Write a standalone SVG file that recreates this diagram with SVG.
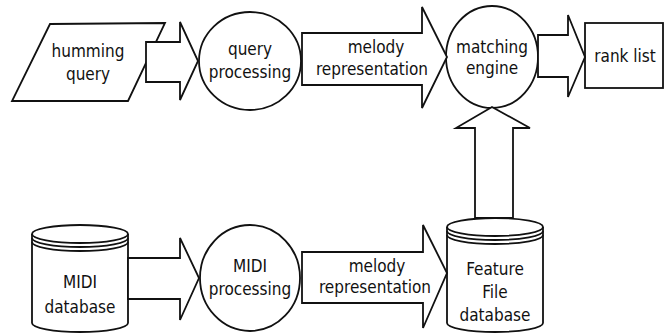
<svg xmlns="http://www.w3.org/2000/svg" width="668" height="334" viewBox="0 0 668 334">
<style>
.s{fill:#fff;stroke:#111;stroke-width:1.8;stroke-linejoin:miter}
.l{fill:none;stroke:#111;stroke-width:1.8}
text{font-family:"DejaVu Sans Condensed","DejaVu Sans",sans-serif;font-stretch:condensed;font-size:17px;fill:#111;text-anchor:middle}
</style>
<rect width="668" height="334" fill="#fff"/>
<g id="humming-query">
<polygon class="s" points="50,24 165,23 128,101 12,101"/>
<text x="88" y="57">humming</text>
<text x="88" y="80">query</text>
</g>
<g id="query-processing">
<ellipse class="s" cx="250" cy="61" rx="51" ry="49"/>
<text x="250" y="55">query</text>
<text x="250" y="78">processing</text>
</g>
<g id="matching-engine">
<ellipse class="s" cx="492" cy="57" rx="46" ry="51"/>
<text x="492" y="53">matching</text>
<text x="492" y="74">engine</text>
</g>
<g id="rank-list">
<rect class="s" x="585" y="23" width="78" height="65"/>
<text x="625" y="62">rank list</text>
</g>
<g id="midi-database">
<path class="s" d="M32,234 A48,9 0 0 1 128,234 L128,323 A48,9 0 0 1 32,323 Z"/>
<path class="l" d="M32,234 A48,9 0 0 0 128,234 M32,238 A48,9 0 0 0 128,238 M32,242 A48,9 0 0 0 128,242"/>
<text x="80" y="288">MIDI</text>
<text x="80" y="313">database</text>
</g>
<g id="midi-processing">
<ellipse class="s" cx="250" cy="278" rx="50" ry="53"/>
<text x="250" y="272">MIDI</text>
<text x="250" y="295">processing</text>
</g>
<g id="feature-file-database">
<path class="s" d="M447,227 A48,9 0 0 1 543,227 L543,323 A48,9 0 0 1 447,323 Z"/>
<path class="l" d="M447,227 A48,9 0 0 0 543,227 M447,231 A48,9 0 0 0 543,231 M447,235 A48,9 0 0 0 543,235"/>
<text x="495" y="275">Feature</text>
<text x="495" y="298">File</text>
<text x="495" y="321">database</text>
</g>
<g id="connectors">
<polygon class="s" points="146,42 180,42 180,22 198,61 180,100 180,82 146,82"/>
<polygon class="s" points="302,33 422,33 422,7 447,57 422,108 422,85 302,85"/>
<polygon class="s" points="538,35 568,35 568,15 585,57 568,97 568,77 538,77"/>
<polygon class="s" points="475,218 475,128 456,128 492,107 530,128 513,128 513,218"/>
<polygon class="s" points="128,258 180,258 180,238 199,278 180,320 180,299 128,299"/>
<polygon class="s" points="302,252 423,252 423,225 447,273 423,328 423,303 302,303"/>
<text x="376" y="53">melody</text>
<text x="372" y="75">representation</text>
<text x="377" y="272">melody</text>
<text x="375" y="293">representation</text>
</g>
</svg>
